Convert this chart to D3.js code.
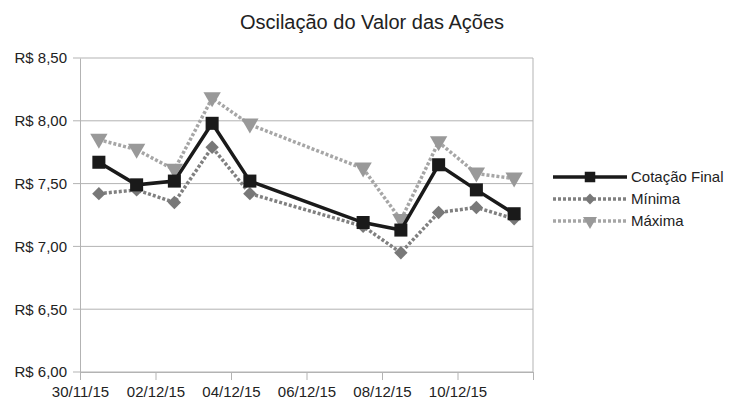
<!DOCTYPE html>
<html>
<head>
<meta charset="utf-8">
<script src="https://cdn.jsdelivr.net/npm/d3@7"></script>
<style>
body { margin: 0; background: #fff; }
text { font-family: "Liberation Sans", Arial, sans-serif; fill: #222; }
</style>
</head>
<body>
<svg id="chart" width="730" height="400"></svg>
<script>
// dias do pregão
var dias = ["2015-11-30", "2015-12-01", "2015-12-02", "2015-12-03", "2015-12-04",
            "2015-12-07", "2015-12-08", "2015-12-09", "2015-12-10", "2015-12-11"];
var cotacaoFinal = [7.67, 7.49, 7.52, 7.98, 7.52, 7.19, 7.13, 7.65, 7.45, 7.26];
var minima = [7.42, 7.45, 7.35, 7.79, 7.42, 7.16, 6.95, 7.27, 7.31, 7.22];
var maxima = [7.85, 7.77, 7.61, 8.18, 7.97, 7.62, 7.21, 7.83, 7.58, 7.54];
var yTicks = [6.0, 6.5, 7.0, 7.5, 8.0, 8.5];
var xTicks = ["2015-11-30", "2015-12-02", "2015-12-04", "2015-12-06", "2015-12-08", "2015-12-10", "2015-12-12"];

var parse = d3.timeParse("%Y-%m-%d");
var datas = dias.map(parse);

var svg = d3.select("#chart");
var mLeft = 80, mRight = 533, mTop = 58, mBottom = 372;

var x = d3.scaleTime()
    .domain([parse("2015-11-30"), parse("2015-12-12")])
    .range([mLeft, mRight]);
var y = d3.scaleLinear().domain([6, 8.5]).range([mBottom, mTop]);

var fmtMoeda = function(v) { return "R$ " + v.toFixed(2).replace(".", ","); };
var ultimo = +parse("2015-12-12");

// grade horizontal
svg.append("g").selectAll("line").data(yTicks).enter().append("line")
    .attr("x1", mLeft - 7).attr("x2", mRight)
    .attr("y1", function(d) { return y(d); }).attr("y2", function(d) { return y(d); })
    .style("stroke", "#b3b3b3").style("stroke-width", 1);

// eixo y
var yAxis = svg.append("g").attr("transform", "translate(" + mLeft + ",0)")
    .call(d3.axisLeft(y).tickValues(yTicks).tickFormat(fmtMoeda).tickSize(0).tickPadding(13));
yAxis.select(".domain").style("stroke", "#b3b3b3");
yAxis.selectAll("text").style("font-size", "15px").style("fill", "#222");

// borda direita
svg.append("line").attr("x1", mRight).attr("x2", mRight).attr("y1", mTop).attr("y2", mBottom)
    .style("stroke", "#b3b3b3");

// eixo x
var xAxis = svg.append("g").attr("transform", "translate(0," + mBottom + ")")
    .call(d3.axisBottom(x).tickValues(xTicks.map(parse))
        .tickFormat(function(d) { return +d === ultimo ? "" : d3.timeFormat("%d/%m/%y")(d); })
        .tickSize(8).tickSizeOuter(0).tickPadding(6));
xAxis.select(".domain").style("stroke", "#b3b3b3");
xAxis.selectAll("line").style("stroke", "#b3b3b3");
xAxis.selectAll("text").style("font-size", "15px").style("fill", "#222");

// meio do dia
var px = function(d) { return x(d3.timeHour.offset(d, 12)); };

var series = [
    { nome: "Cotação Final", valores: cotacaoFinal, cor: "#1a1a1a", mcor: "#1a1a1a", dash: null, largura: 3.5, simbolo: "square", tamanho: 170 },
    { nome: "Mínima", valores: minima, cor: "#808080", mcor: "#787878", dash: "3,2", largura: 3.5, simbolo: "diamond", tamanho: 90 },
    { nome: "Máxima", valores: maxima, cor: "#a6a6a6", mcor: "#999999", dash: "3,2", largura: 3.5, simbolo: "triangle", tamanho: 130 }
];

var rotacao = { square: 0, diamond: 45, triangle: 180 };

function simbolo(s) {
    var tipo = s.simbolo === "triangle" ? d3.symbolTriangle : d3.symbolSquare;
    return d3.symbol().type(tipo).size(s.tamanho)();
}

var linha = d3.line()
    .x(function(d) { return px(d.data); })
    .y(function(d) { return y(d.v); });

// desenha de trás pra frente
series.slice().reverse().forEach(function(s) {
    var pts = datas.map(function(d, i) { return { data: d, v: s.valores[i] }; });
    svg.append("path").datum(pts).attr("d", linha)
        .style("fill", "none").style("stroke", s.cor).style("stroke-width", s.largura)
        .style("stroke-dasharray", s.dash).style("stroke-linejoin", "miter");
    svg.append("g").selectAll("path").data(pts).enter().append("path")
        .attr("d", simbolo(s))
        .attr("transform", function(d) {
            var dy = s.simbolo === "triangle" ? -1 : 0;
            return "translate(" + px(d.data) + "," + (y(d.v) + dy) + ") rotate(" + rotacao[s.simbolo] + ")";
        })
        .style("fill", s.mcor);
});

// titulo
svg.append("text").attr("x", 372).attr("y", 29).attr("text-anchor", "middle")
    .style("font-size", "20px").text("Oscilação do Valor das Ações");

// legenda
var leg = svg.append("g").selectAll("g").data(series).enter().append("g")
    .attr("transform", function(d, i) { return "translate(553," + (177 + i * 22) + ")"; });
leg.append("line").attr("x1", 0).attr("x2", 74)
    .style("stroke", function(d) { return d.cor; })
    .style("stroke-width", function(d) { return d.largura; })
    .style("stroke-dasharray", function(d) { return d.dash; });
leg.append("path")
    .attr("d", function(d) { return simbolo(Object.assign({}, d, { tamanho: d.tamanho * 0.65 })); })
    .attr("transform", function(d) { return "translate(37,0) rotate(" + rotacao[d.simbolo] + ")"; })
    .style("fill", function(d) { return d.mcor; });
leg.append("text").attr("x", 78).attr("y", 5).style("font-size", "15px")
    .text(function(d) { return d.nome; });
</script>
</body>
</html>
